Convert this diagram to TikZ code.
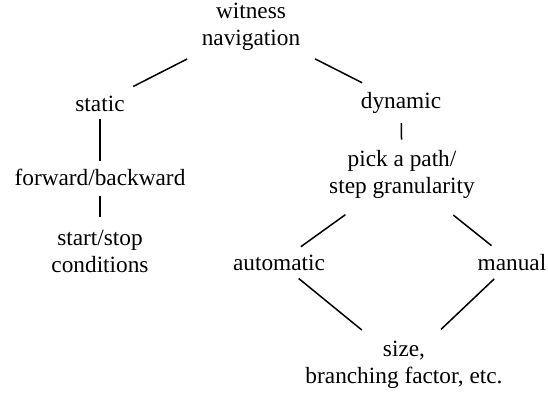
\documentclass[tikz,border=0pt]{standalone}
\usepackage{fontspec}
\setmainfont{Liberation Serif}
\usepackage{tikz}

\tikzset{
	lbl/.style={inner sep=3pt, align=center, font=\fontsize{23.3}{27}\selectfont},
	branch/.style={line width=1.5pt, shorten <=8pt, shorten >=8pt}
}

\begin{document}
\begin{tikzpicture}[x=1pt, y=-1pt]
			\useasboundingbox (0,0) rectangle (548,396);
			
			\node[lbl] (wn) at (251,26.5) {witness\\navigation};
			\node[lbl, anchor=base] (st) at (100,111) {static};
			\node[lbl, anchor=base] (dy) at (401,108) {dynamic};
			\node[lbl, anchor=base] (fb) at (100,185) {forward/backward};
			\node[lbl] (ss) at (100,251) {start/stop\\conditions};
			\node[lbl] (pk) at (402,174) {pick a path/\\step granularity};
			\node[lbl, anchor=base] (au) at (279,270) {automatic};
			\node[lbl, anchor=base] (ma) at (512,270) {manual};
			\node[lbl] (sz) at (404,364.5) {size,\\branching factor, etc.};
			
			\draw[branch, shorten <=13pt, shorten >=13pt] (wn) -- (st);
			\draw[branch, shorten <=13pt, shorten >=13pt] (wn) -- (dy);
			\draw[branch, shorten <=5pt, shorten >=4pt] (st) -- (fb);
			\draw[branch, shorten >=10pt] (fb) -- (ss);
			\draw[branch, shorten <=7pt, shorten >=7pt] (dy) -- (pk);
			\draw[branch, shorten <=23pt] (pk) -- (au);
			\draw[branch, shorten <=22pt] (pk) -- (ma);
			\draw[branch, shorten >=12pt] (au) -- (sz);
			\draw[branch, shorten >=12pt] (ma) -- (sz);
		\end{tikzpicture}
\end{document}
